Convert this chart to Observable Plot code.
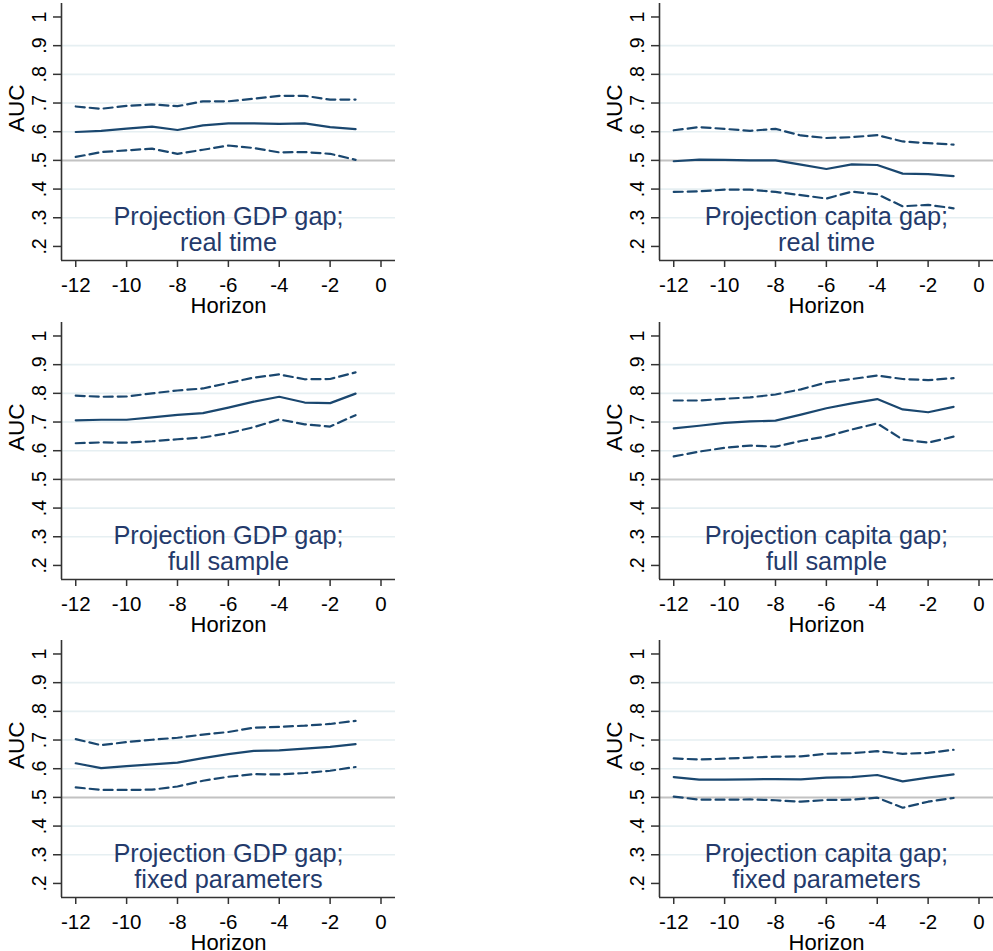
<!DOCTYPE html>
<html><head><meta charset="utf-8">
<script src="https://cdn.jsdelivr.net/npm/d3@7"></script>
<script src="https://cdn.jsdelivr.net/npm/@observablehq/plot@0.6"></script>
<style>
html,body{margin:0;padding:0;background:#fff;overflow:hidden;}
#chart{position:relative;width:993px;height:951px;overflow:hidden;font-family:"Liberation Sans",Arial,sans-serif;}
#chart svg{position:absolute;}
</style></head><body><div id="chart"></div>
<script>
// ---- data ----
const horizon = [-12,-11,-10,-9,-8,-7,-6,-5,-4,-3,-2,-1];
const xTicks = [-12,-10,-8,-6,-4,-2,0];
const xTickLabels = ["-12","-10","-8","-6","-4","-2","0"];
const yTicks = [0.2,0.3,0.4,0.5,0.6,0.7,0.8,0.9,1];
const yTickLabels = [".2",".3",".4",".5",".6",".7",".8",".9","1"];
const gridValues = [0.3,0.4,0.6,0.7,0.8,0.9];
const referenceAUC = [0.5];
const xLabel = "Horizon";
const yLabel = "AUC";

const gdpRealEst = [.599,.603,.611,.618,.606,.622,.629,.629,.627,.629,.616,.609];
const gdpRealHi  = [.688,.680,.690,.695,.689,.706,.706,.715,.725,.725,.712,.712];
const gdpRealLo  = [.512,.529,.535,.541,.523,.537,.552,.543,.528,.529,.523,.502];

const capRealEst = [.497,.503,.502,.500,.500,.485,.470,.486,.484,.454,.452,.445];
const capRealHi  = [.605,.616,.610,.603,.610,.587,.578,.581,.588,.566,.560,.555];
const capRealLo  = [.390,.392,.398,.398,.390,.379,.367,.391,.382,.340,.345,.333];

const gdpFullEst = [.706,.708,.708,.716,.725,.731,.750,.771,.788,.768,.766,.799];
const gdpFullHi  = [.792,.788,.789,.800,.810,.817,.836,.855,.866,.849,.850,.873];
const gdpFullLo  = [.626,.629,.628,.633,.640,.646,.661,.682,.709,.692,.684,.724];

const capFullEst = [.678,.687,.697,.702,.705,.726,.748,.765,.780,.744,.734,.753];
const capFullHi  = [.775,.775,.781,.786,.796,.814,.838,.850,.862,.850,.846,.853];
const capFullLo  = [.580,.597,.610,.618,.614,.634,.650,.674,.695,.639,.628,.649];

const gdpFixEst = [.619,.602,.609,.615,.621,.637,.651,.662,.664,.670,.676,.686];
const gdpFixHi  = [.703,.682,.693,.701,.708,.719,.728,.743,.746,.750,.756,.767];
const gdpFixLo  = [.535,.526,.526,.527,.538,.558,.572,.581,.580,.585,.593,.606];

const capFixEst = [.571,.562,.562,.563,.564,.563,.569,.571,.578,.556,.569,.580];
const capFixHi  = [.636,.632,.635,.639,.642,.643,.652,.654,.661,.652,.655,.666];
const capFixLo  = [.503,.492,.492,.493,.490,.485,.491,.492,.499,.464,.485,.498];

const panelTitles = [
  "Projection GDP gap;\nreal time", "Projection capita gap;\nreal time",
  "Projection GDP gap;\nfull sample", "Projection capita gap;\nfull sample",
  "Projection GDP gap;\nfixed parameters", "Projection capita gap;\nfixed parameters"
];
const panelSeries = [
  [gdpRealEst, gdpRealLo, gdpRealHi], [capRealEst, capRealLo, capRealHi],
  [gdpFullEst, gdpFullLo, gdpFullHi], [capFullEst, capFullLo, capFullHi],
  [gdpFixEst, gdpFixLo, gdpFixHi], [capFixEst, capFixLo, capFixHi]
];

// ---- layout / style ----
const xDomain = [-12.56, 0.57];
const yDomain = [0.151, 1.047];
const colLeft = [0, 597.5];
const rowTop = [0, 318.5, 636.5];
const navy = "#1a476f";
const textNavy = "#243a6b";
const axisColor = "#333333";
const fontFamily = '"Liberation Sans", Arial, Helvetica, sans-serif';

const chart = document.getElementById("chart");
panelTitles.forEach((title, k) => {
  const [est, lo, hi] = panelSeries[k];
  const rows = horizon.map((h, i) => ({h, est: est[i], lo: lo[i], hi: hi[i]}));
  const svg = Plot.plot({
    width: 400, height: 318,
    marginTop: 3, marginBottom: 58, marginLeft: 61, marginRight: 5,
    style: {fontFamily, color: "#000", background: "transparent", overflow: "visible"},
    x: {domain: xDomain},
    y: {domain: yDomain},
    marks: [
      Plot.ruleY(gridValues, {stroke: "#e6eff2", strokeWidth: 1.6}),
      Plot.ruleY(referenceAUC, {stroke: "#c2c2c2", strokeWidth: 2}),
      Plot.line(rows, {x: "h", y: "hi", stroke: navy, strokeWidth: 2.2, strokeDasharray: "9,5"}),
      Plot.line(rows, {x: "h", y: "lo", stroke: navy, strokeWidth: 2.2, strokeDasharray: "9,5"}),
      Plot.line(rows, {x: "h", y: "est", stroke: navy, strokeWidth: 2.2}),
      Plot.axisY({ticks: yTicks, tickSize: 8, tickPadding: 8, tickRotate: -90,
        tickFormat: d => yTickLabels[yTicks.indexOf(d)], fontSize: 19.5,
        stroke: axisColor, strokeWidth: 1.5, label: null}),
      Plot.axisX({ticks: xTicks, tickSize: 7, tickPadding: 10,
        tickFormat: d => xTickLabels[xTicks.indexOf(d)], fontSize: 20.5,
        stroke: axisColor, strokeWidth: 1.5, label: null}),
      Plot.ruleX([xDomain[0]], {stroke: axisColor, strokeWidth: 1.6}),
      Plot.ruleY([yDomain[0]], {stroke: axisColor, strokeWidth: 1.6}),
      Plot.text([yLabel], {frameAnchor: "left", rotate: -90, dx: -38, lineAnchor: "bottom", fontSize: 22.5, fill: "#000"}),
      Plot.text([xLabel], {frameAnchor: "bottom", dy: 52.5, lineAnchor: "bottom", fontSize: 22, fill: "#000"}),
      Plot.text([title], {frameAnchor: "bottom", dy: -10, lineAnchor: "bottom", fontSize: 25.3, lineHeight: 1.0, fill: textNavy})
    ]
  });
  svg.style.left = colLeft[k % 2] + "px";
  svg.style.top = rowTop[Math.floor(k / 2)] + "px";
  chart.appendChild(svg);
});
</script>
</body></html>
